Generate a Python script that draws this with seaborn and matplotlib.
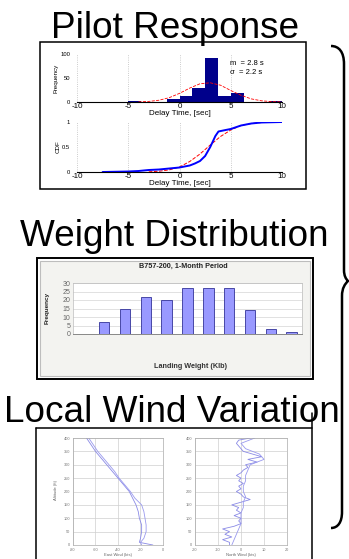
import matplotlib.pyplot as plt
import numpy as np
import seaborn as sns
from matplotlib.lines import Line2D
from matplotlib.patches import PathPatch, Rectangle
from matplotlib.path import Path
from matplotlib.transforms import Affine2D


W, H = 349, 559

# pilot response: delay time histogram, fitted normal and CDFs
delay_bin_edges = [-7.5, -6.25, -5.0, -3.75, -2.5, -1.25, 0.0, 1.25, 2.5, 3.75, 5.0, 6.25, 7.5, 8.75, 10.0]
delay_counts = [1, 0, 2, 0, 0, 7, 12, 30, 92, 12, 19, 1, 0, 2]
fit_x = [-4, -3, -2, -1, 0, 1, 2, 3, 4, 5, 6, 7, 8, 9, 10]
fit_freq = [0.3, 1.2, 3.7, 9, 18, 29, 38, 40, 35, 24, 14, 6.5, 2.5, 0.8, 0.2]
cdf_x = [-7.5, -5, -4, -3, -2, -1, 0, 1, 1.5, 2, 2.5, 3, 3.5, 3.8, 4.5, 5, 6, 7, 8, 10]
cdf_empirical = [0.0, 0.01, 0.02, 0.04, 0.05, 0.07, 0.09, 0.13, 0.17, 0.22, 0.32, 0.5,
                 0.72, 0.81, 0.84, 0.86, 0.93, 0.97, 0.99, 1.0]
cdf_fit_x = [-3, -2, -1, 0, 1, 2, 3, 4, 5, 6, 7, 8, 9, 10]
cdf_fit = [0.004, 0.015, 0.042, 0.10, 0.21, 0.36, 0.54, 0.71, 0.84, 0.93, 0.97, 0.99, 1.0, 1.0]

# weight distribution (B757-200, one month)
weight_bins = ["150", "160", "170", "180", "190", "200", "210", "220", "230", "240", "250"]
landing_counts = [0, 7, 15, 22, 20, 27, 27, 27, 14, 3, 1]

# local wind profiles
east_alt = [400, 375, 350, 325, 300, 275, 250, 225, 200, 175, 150, 125, 100, 75, 50, 25, 10, 0]
east_wind_a = [-68, -64, -60, -55, -50, -45, -40, -35, -30, -27, -24, -22, -21, -19, -19, -20, -21, -9]
east_wind_b = [-66, -62, -58, -53, -48, -43, -39, -34, -29, -25, -19, -17, -16, -15, -15, -17, -20, -19]
north_alt_a = [400, 392, 380, 370, 360, 350, 340, 330, 320, 310, 300, 290, 280, 270, 260, 250, 240,
               230, 220, 210, 200, 190, 180, 170, 160, 150, 140, 130, 120, 110, 100, 90, 80, 70,
               60, 50, 40, 30, 20, 10, 0]
north_wind_a = [4, -1, -2, -1, 0, 1, 5, 9, 3, 7, 2, 3, 1, 0, -2, 0, -1, 1, -1, 0, -2, 0, 1, 4, 0,
                -4, -1, -2, 0, -3, 0, -1, 0, -3, -8, -5, -7, -4, -8, -5, -5]
north_alt_b = [400, 380, 360, 340, 320, 300, 280, 260, 240, 220, 200, 180, 160, 140, 120, 100, 80,
               60, 40, 20, 0]
north_wind_b = [6, 0, 2, 8, 10, 4, 3, 2, 2, 1, 1, 2, 1, 1, 0, 0, 0, -1, -2, -3, -4]

TITLE_SIZE = 26.6


def add_axes_px(fig, left, top, right, bottom):
    return fig.add_axes([left / W, 1 - bottom / H, (right - left) / W, (bottom - top) / H])


def draw_pilot_response(fig, px):
    fig.text(175 / W, 1 - 37.5 / H, "Pilot Response", fontsize=TITLE_SIZE, color="black",
             ha="center", va="baseline")
    fig.patches.append(Rectangle((40, 42), 266, 147, transform=px, fill=False,
                                 edgecolor="black", lw=1.1, zorder=5))

    edges = np.array(delay_bin_edges)
    centers = (edges[:-1] + edges[1:]) / 2

    ax = add_axes_px(fig, 77, 54, 282, 102)
    sns.histplot(x=centers, weights=delay_counts, bins=delay_bin_edges, color="#00008b",
                 alpha=1, linewidth=0, ax=ax)
    sns.lineplot(x=fit_x, y=fit_freq, color="red", linestyle="--", lw=0.6, ax=ax)
    ax.set_xlim(-10, 10)
    ax.set_ylim(0, 100)
    ax.set_yticks([0, 50, 100])
    ax.set_ylabel("Frequency", fontsize=4.5, labelpad=1)
    ax.set_xlabel("Delay Time, [sec]", fontsize=5.8, labelpad=0)
    ax.text(0.745, 0.81, "m  = 2.8 s", transform=ax.transAxes, fontsize=5.5, va="center", color="black")
    ax.text(0.745, 0.625, "σ  = 2.2 s", transform=ax.transAxes, fontsize=5.5, va="center", color="black")

    ax2 = add_axes_px(fig, 77, 122, 282, 172)
    sns.lineplot(x=cdf_fit_x, y=cdf_fit, color="red", linestyle="--", lw=0.7, ax=ax2)
    sns.lineplot(x=cdf_x, y=cdf_empirical, color="#0000ff", lw=1.4, ax=ax2)
    ax2.set_xlim(-10, 10)
    ax2.set_ylim(0, 1)
    ax2.set_yticks([0, 0.5, 1])
    ax2.set_yticklabels(["0", "0.5", "1"])
    ax2.set_ylabel("CDF", fontsize=4.5, labelpad=1)
    ax2.set_xlabel("Delay Time, [sec]", fontsize=5.8, labelpad=0)

    for a in (ax, ax2):
        a.set_facecolor("none")
        a.set_xticks([-10, -5, 0, 5, 10])
        a.grid(axis="x", color="#bbbbbb", linestyle=":", lw=0.6)
        a.grid(axis="y", visible=False)
        for side in ("left", "top", "right"):
            a.spines[side].set_visible(False)
        a.spines["bottom"].set_color("black")
        a.spines["bottom"].set_linewidth(0.8)
        a.tick_params(axis="x", length=0, labelsize=5.8, pad=0.5, labelcolor="black")
        a.tick_params(axis="y", length=0, labelsize=4.2, pad=5, labelcolor="black")


def draw_weight_distribution(fig, px):
    fig.text(174 / W, 1 - 246 / H, "Weight Distribution", fontsize=TITLE_SIZE, color="black",
             ha="center", va="baseline")
    fig.patches.append(Rectangle((40, 261), 270, 115, transform=px, facecolor="#f3f3f0",
                                 edgecolor="#bdbdbd", lw=0.8, zorder=-1))
    fig.patches.append(Rectangle((37, 258), 276, 121, transform=px, fill=False,
                                 edgecolor="black", lw=1.4, zorder=5))
    fig.text(183 / W, 1 - 266 / H, "B757-200, 1-Month Period", fontsize=5.2, weight="bold",
             ha="center", va="center", color="#222222")
    fig.text(47 / W, 1 - 308 / H, "Frequency", fontsize=4.6, weight="bold", rotation=90,
             ha="center", va="center", color="#222222")
    fig.text(190 / W, 1 - 367 / H, "Landing Weight (Klb)", fontsize=5.2, weight="bold",
             ha="center", va="center", color="#333333")

    ax = add_axes_px(fig, 73, 283, 302, 334)
    sns.barplot(x=weight_bins, y=landing_counts, color="#9999ff", saturation=1,
                edgecolor="#333399", linewidth=0.6, width=0.5, ax=ax)
    ax.set_facecolor("white")
    ax.set_xlim(-0.5, len(weight_bins) - 0.5)
    ax.set_ylim(0, 30)
    ax.set_yticks(range(0, 31, 5))
    ax.set_xticks(np.arange(-0.5, len(weight_bins), 1))
    ax.set_xticklabels([])
    ax.set_xlabel("")
    ax.set_ylabel("")
    ax.grid(axis="y", color="#d4d4d4", lw=0.5)
    ax.set_axisbelow(True)
    for side in ("left", "top", "right"):
        ax.spines[side].set_color("#bbbbbb")
        ax.spines[side].set_linewidth(0.5)
    ax.spines["bottom"].set_color("#777777")
    ax.spines["bottom"].set_linewidth(0.6)
    ax.tick_params(axis="y", length=0, labelsize=5, labelcolor="#666666", pad=2)
    ax.tick_params(axis="x", length=1.5, width=0.5, color="#777777", direction="out")


def draw_wind_variation(fig, px):
    fig.text(172 / W, 1 - 422 / H, "Local Wind Variation", fontsize=TITLE_SIZE, color="black",
             ha="center", va="baseline")
    for xs, ys in (([36, 36], [428, 559]), ([36, 312], [428, 428]), ([312, 312], [413, 559])):
        fig.lines.append(Line2D(xs, ys, transform=px, color="black", lw=1.1, zorder=5))
    fig.text(56 / W, 1 - 490 / H, "Altitude (ft)", fontsize=3, rotation=90,
             ha="center", va="center", color="#666666")

    left = add_axes_px(fig, 73, 438, 163, 545)
    sns.lineplot(x=east_wind_a, y=east_alt, sort=False, estimator=None, color="#8a8ae6", lw=0.6, ax=left)
    sns.lineplot(x=east_wind_b, y=east_alt, sort=False, estimator=None, color="#9a9aee", lw=0.6, ax=left)
    left.set_xlim(-80, 0)
    left.set_xticks([-80, -60, -40, -20, 0])
    left.set_xlabel("East Wind (kts)", fontsize=3, color="#666666", labelpad=1)

    right = add_axes_px(fig, 195, 438, 287, 545)
    sns.lineplot(x=north_wind_a, y=north_alt_a, sort=False, estimator=None, color="#8a8ae6", lw=0.6, ax=right)
    sns.lineplot(x=north_wind_b, y=north_alt_b, sort=False, estimator=None, color="#9a9aee", lw=0.6, ax=right)
    right.set_xlim(-20, 20)
    right.set_xticks([-20, -10, 0, 10, 20])
    right.set_xlabel("North Wind (kts)", fontsize=3, color="#666666", labelpad=1)

    for a in (left, right):
        a.set_ylim(0, 400)
        a.set_yticks(range(0, 401, 50))
        a.set_ylabel("")
        a.grid(True, color="#cfcfcf", lw=0.5)
        for spine in a.spines.values():
            spine.set_color("#aaaaaa")
            spine.set_linewidth(0.5)
        a.tick_params(length=1, width=0.4, color="#999999", labelsize=2.8, labelcolor="#777777", pad=1)


def draw_brace(fig, px):
    verts = [(331, 46), (339, 46), (344, 52), (344, 64),
             (344, 270),
             (344, 276), (346, 279), (348, 281),
             (345, 284), (342, 288), (342, 296),
             (342, 512),
             (342, 522), (338, 528), (331, 528)]
    codes = ([Path.MOVETO] + [Path.CURVE4] * 3 + [Path.LINETO] + [Path.CURVE4] * 6
             + [Path.LINETO] + [Path.CURVE4] * 3)
    fig.patches.append(PathPatch(Path(verts, codes), transform=px, fill=False,
                                 edgecolor="black", lw=1.8, zorder=5))


if __name__ == "__main__":
    sns.set_style("white")
    plt.rcParams["font.family"] = ["Liberation Sans", "DejaVu Sans"]
    plt.rcParams["axes.unicode_minus"] = False
    plt.rcParams["axes.labelcolor"] = "black"

    fig = plt.figure(figsize=(W / 100, H / 100), dpi=100)
    px = Affine2D().scale(1 / W, -1 / H).translate(0, 1) + fig.transFigure

    draw_pilot_response(fig, px)
    draw_weight_distribution(fig, px)
    draw_wind_variation(fig, px)
    draw_brace(fig, px)

    fig.savefig("out.png", dpi=100)
    plt.close(fig)
